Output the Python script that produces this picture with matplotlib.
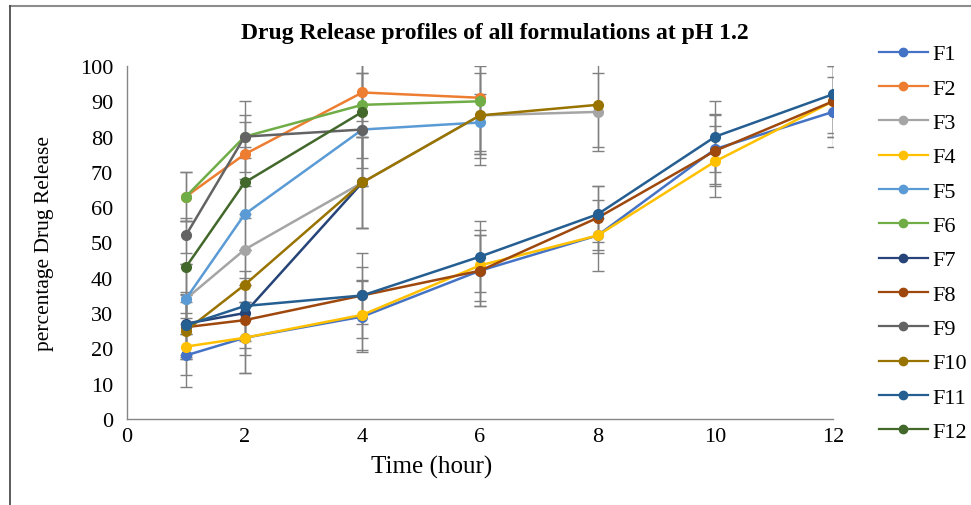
import matplotlib
matplotlib.use('Agg')
import matplotlib.pyplot as plt
from matplotlib.lines import Line2D

plt.rcParams['font.family'] = ['Liberation Serif', 'DejaVu Serif']

# time points (hour)
t_full = [1, 2, 4, 6, 8, 10, 12]
t_to8 = [1, 2, 4, 6, 8]
t_to6 = [1, 2, 4, 6]
t_to4 = [1, 2, 4]

# percentage drug release
f1 = [18, 23, 29, 42, 52, 76.5, 87]
f2 = [63, 75, 92.5, 91]
f3 = [34, 48, 67, 86, 87]
f4 = [20.5, 23, 29.5, 43.5, 52, 73, 90]
f5 = [34, 58, 82, 84]
f6 = [63, 80, 89, 90]
f7 = [27, 30, 67]
f8 = [26, 28, 35, 42, 57, 76, 90]
f9 = [52, 80, 82]
f10 = [25, 38, 67, 86, 89]
f11 = [26.5, 32, 35, 46, 58, 80, 92]
f12 = [43, 67, 87]

# error bar sizes (estimated)
e1 = [9, 10, 10, 10, 5, 10, 10]
e2 = [7, 9, 8, 16]
e3 = [10, 10, 13, 12, 11]
e4 = [8, 10, 10, 10, 10, 10, 10]
e5 = [10, 10, 16, 8]
e6 = [7, 6, 15, 15]
e7 = [9, 10, 13]
e8 = [9, 10, 8, 10, 9, 10, 10]
e9 = [5, 10, 16]
e10 = [8, 10, 13, 14, 12]
e11 = [9, 10, 12, 10, 8, 10, 11]
e12 = [13, 10, 16]

series = [
    ('F1', t_full, f1, e1, '#4472C4'),
    ('F2', t_to6, f2, e2, '#ED7D31'),
    ('F3', t_to8, f3, e3, '#A5A5A5'),
    ('F4', t_full, f4, e4, '#FFC000'),
    ('F5', t_to6, f5, e5, '#5B9BD5'),
    ('F6', t_to6, f6, e6, '#70AD47'),
    ('F7', t_to4, f7, e7, '#264478'),
    ('F8', t_full, f8, e8, '#9E480E'),
    ('F9', t_to4, f9, e9, '#636363'),
    ('F10', t_to8, f10, e10, '#997300'),
    ('F11', t_full, f11, e11, '#255E91'),
    ('F12', t_to4, f12, e12, '#43682B'),
]

fig = plt.figure(figsize=(9.71, 5.06), dpi=100)
ax = fig.add_axes([0.1308, 0.170, 0.7271, 0.6976])

for name, t, y, e, c in series:
    ax.errorbar(t, y, yerr=e, fmt='none', ecolor='#808080', elinewidth=1.0,
                capsize=4, capthick=1.0, zorder=2)

handles = []
for name, t, y, e, c in series:
    ax.plot(t, y, color=c, lw=1.8, marker='o', ms=7, zorder=3)
    handles.append(Line2D([], [], color=c, lw=1.6, marker='o', ms=6, label=name))

ax.set_xlim(0, 12)
ax.set_ylim(0, 100)
ax.set_xticks(range(0, 13, 2))
ax.set_yticks(range(0, 101, 10))
ax.tick_params(length=0, labelsize=16, colors='black')
ax.tick_params(axis='y', pad=10)
ax.tick_params(axis='x', pad=6)
for s in ['top', 'right']:
    ax.spines[s].set_visible(False)
for s in ['left', 'bottom']:
    ax.spines[s].set_color('#868686')
    ax.spines[s].set_linewidth(1.0)

ax.set_ylabel('percentage Drug Release', fontsize=15.5)
ax.yaxis.set_label_coords(-0.103, 0.5)
fig.text(432 / 971, 1 - 467 / 506, 'Time (hour)', fontsize=18, ha='center', va='center')
fig.text(495 / 971, 1 - 33 / 506, 'Drug Release profiles of all formulations at pH 1.2',
         fontsize=17, fontweight='bold', ha='center', va='center')

fig.legend(handles=handles, loc='upper left', bbox_to_anchor=(870 / 971, 1 - 36 / 506),
           frameon=False, fontsize=16, labelspacing=0.62, handlelength=2.2,
           handletextpad=0.2, borderaxespad=0)

# outer frame lines
fig.add_artist(Line2D([10 / 971, 1], [1 - 7 / 506, 1 - 7 / 506], color='#8C8C8C', lw=1.5))
fig.add_artist(Line2D([10 / 971, 10 / 971], [0, 1 - 7 / 506], color='#404040', lw=1.2))

fig.savefig('out.png', dpi=100)
